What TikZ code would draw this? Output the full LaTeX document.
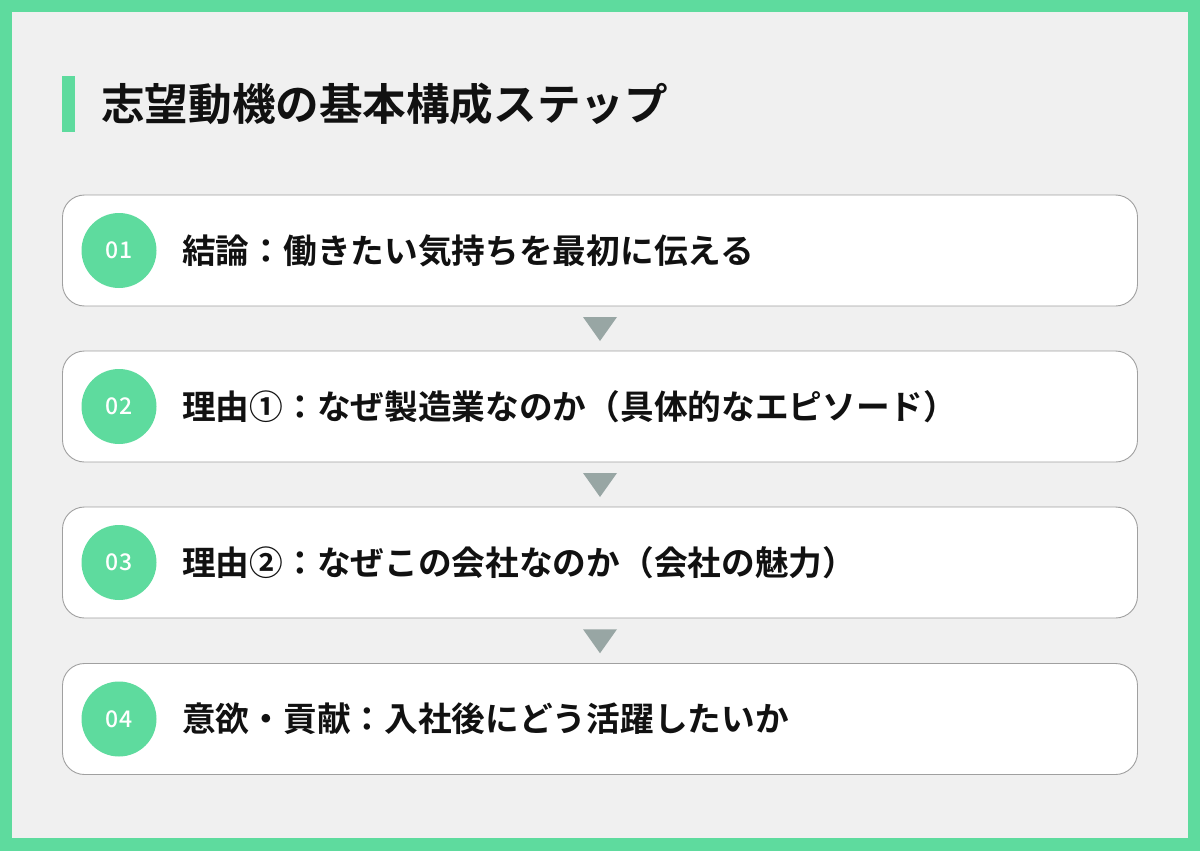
\documentclass[tikz,border=0pt]{standalone}
\usetikzlibrary{calc}
\usepackage{fontspec}
\setmainfont{Noto Sans CJK JP}[BoldFont={Noto Sans CJK JP Bold}]
\newfontfamily\numfont{Noto Sans CJK JP Medium}
\definecolor{mint}{HTML}{5EDB9E}
\definecolor{bgray}{HTML}{F0F0F0}
\definecolor{edgegray}{HTML}{A0A0A0}
\definecolor{arrowgray}{HTML}{98A6A4}
\definecolor{ink}{HTML}{111111}
\begin{document}
\begin{tikzpicture}[x=1pt,y=-1pt,
  card/.style={draw=edgegray,line width=0.9pt,fill=white,rounded corners=22pt,minimum width=1075pt,minimum height=111pt,inner sep=0pt},
  badge/.style={circle,fill=mint,minimum size=75pt,inner sep=0pt,text=white,font=\numfont\fontsize{23}{23}\selectfont},
  itemtext/.style={anchor=west,inner sep=0pt,text=ink,font=\bfseries\fontsize{33.7}{38}\selectfont},
  downtri/.style={fill=arrowgray}]
\useasboundingbox (0,0) rectangle (1200,851);
\fill[mint] (0,0) rectangle (1200,851);
\fill[bgray] (12,12) rectangle (1188,838);
\fill[mint] (62,76) rectangle (75,132);
\node[anchor=west,inner sep=0pt,text=ink,font=\bfseries\fontsize{43.6}{48}\selectfont] (title) at (101,104) {志望動機の基本構成ステップ};
\foreach \i/\y/\t in {1/250.5/{結論：働きたい気持ちを最初に伝える},
                       2/406.5/{理由①：なぜ製造業なのか（具体的なエピソード）},
                       3/562.5/{理由②：なぜこの会社なのか（会社の魅力）},
                       4/719/{意欲・貢献：入社後にどう活躍したいか}}{
  \node[card] (c\i) at (600,\y) {};
  \node[badge] (b\i) at (119,\y) {0\i};
  \node[itemtext] (t\i) at (182,\y) {\t};
}
\foreach \a/\b in {1/2,2/3,3/4}{
  \coordinate (m\a) at ($(c\a.south)!0.5!(c\b.north)$);
  \fill[downtri] ($(m\a)+(-17,-11.5)$) -- ($(m\a)+(17,-11.5)$) -- ($(m\a)+(0,12.5)$) -- cycle;
}
\end{tikzpicture}
\end{document}
